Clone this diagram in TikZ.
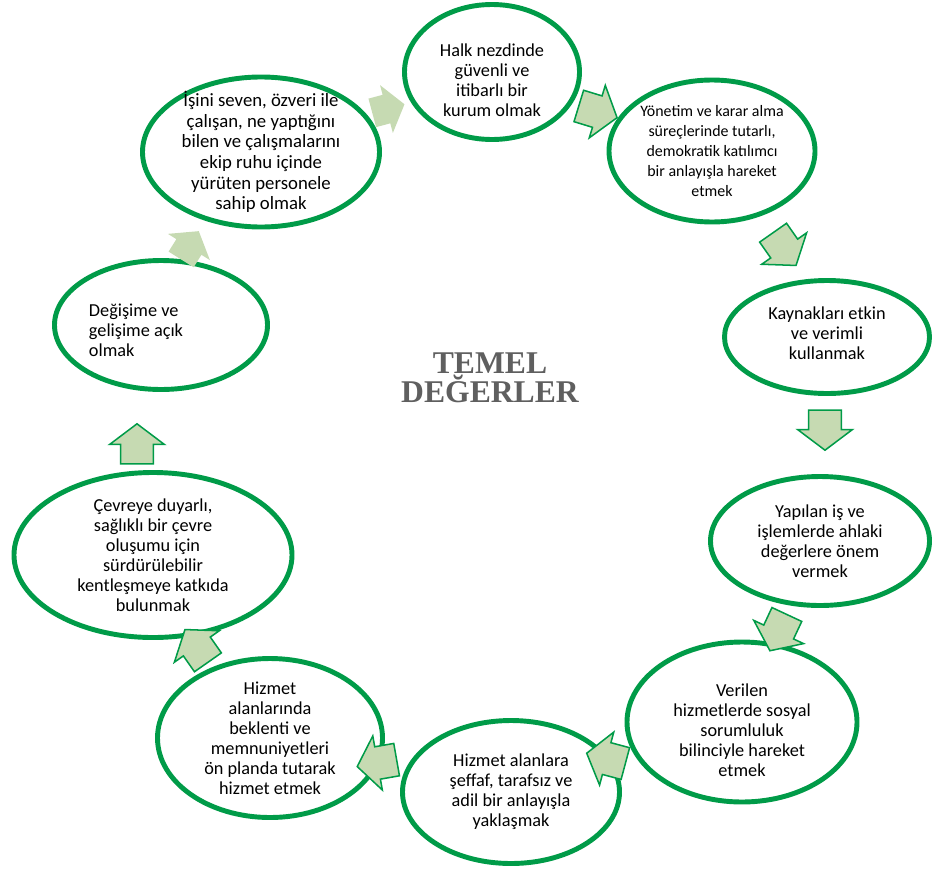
\documentclass[tikz,border=0pt]{standalone}
\usepackage{fontspec}
\setmainfont{Carlito}
\newfontfamily\baslikfont{Liberation Serif}
\usetikzlibrary{shapes.geometric,shapes.arrows}
\definecolor{halkayesil}{RGB}{0,155,72}
\definecolor{okdolgu}{RGB}{198,218,178}
\definecolor{baslikgri}{RGB}{95,95,95}

\begin{document}
\begin{tikzpicture}[x=0.03cm,y=-0.03cm]
  \tikzstyle{halka}=[ellipse,draw=halkayesil,line width=4.2pt,fill=white,inner sep=0pt]
  \tikzstyle{yazi}=[align=center,font=\fontsize{15.6}{17.1}\selectfont,text=black,inner sep=0pt]
  \tikzstyle{ok}=[single arrow,draw=halkayesil,line width=1.3pt,fill=okdolgu,inner xsep=0pt,inner ysep=0.47cm,
    minimum height=1.2cm,single arrow head extend=0.33cm,single arrow tip angle=106]
  \tikzstyle{soluk}=[ok,draw=none,inner ysep=0.42cm,minimum height=1.0cm,single arrow head extend=0.3cm]

  \useasboundingbox (0,0) rectangle (934,869);

    \node [halka] (halk) at (492,72) [minimum width=5.25cm,minimum height=4.05cm,
        label={[yazi,yshift=-0.24cm]center:{Halk nezdinde\\güvenli ve\\itibarlı bir\\kurum olmak}}] {}; %1
    \node [halka] (yonetim) at (712,151) [minimum width=6.18cm,minimum height=4.26cm,
        label={[yazi,font=\fontsize{13.6}{17.1}\selectfont]center:{Yönetim ve karar alma\\süreçlerinde tutarlı,\\demokratik katılımcı\\bir anlayışla hareket\\etmek}}] {};
    \node [halka] (kaynak) at (827,337) [minimum width=6.15cm,minimum height=3.39cm,
        label={[yazi,yshift=0.12cm]center:{Kaynakları etkin\\ve verimli\\kullanmak}}] {};
    \node [halka] (ahlak) at (820,541) [minimum width=6.57cm,minimum height=3.87cm,
        label={[yazi]center:{Yapılan iş ve\\işlemlerde ahlaki\\değerlere önem\\vermek}}] {};
    \node [halka] (sosyal) at (742,722) [minimum width=6.9cm,minimum height=4.8cm,
        label={[yazi,yshift=-0.24cm]center:{Verilen\\hizmetlerde sosyal\\sorumluluk\\bilinciyle hareket\\etmek}}] {};
    \node [halka] (seffaf) at (511,792) [minimum width=6.51cm,minimum height=4.29cm,
        label={[yazi]center:{Hizmet alanlara\\şeffaf, tarafsız ve\\adil bir anlayışla\\yaklaşmak}}] {};
    \node [halka] (beklenti) at (270,738) [minimum width=6.75cm,minimum height=4.77cm,
        label={[yazi]center:{Hizmet\\alanlarında\\beklenti ve\\memnuniyetleri\\ön planda tutarak\\hizmet etmek}}] {};
    \node [halka] (cevre) at (153,555) [minimum width=8.34cm,minimum height=4.95cm,
        label={[yazi]center:{Çevreye duyarlı,\\sağlıklı bir çevre\\oluşumu için\\sürdürülebilir\\kentleşmeye katkıda\\bulunmak}}] {};
    \node [halka] (degisim) at (161,325) [minimum width=6.39cm,minimum height=3.87cm,
        label={[yazi,xshift=-0.75cm,yshift=-0.15cm,align=left]center:{Değişime ve\\gelişime açık\\olmak}}] {};
    \node [halka] (personel) at (261,152) [minimum width=7.11cm,minimum height=4.5cm,
        label={[yazi,font=\fontsize{16}{17.6}\selectfont]center:{İşini seven, özveri ile\\çalışan, ne yaptığını\\bilen ve çalışmalarını\\ekip ruhu içinde\\yürüten personele\\sahip olmak}}] {}; %10

    \node [soluk] (ok1) at (383,110) [rotate=15] {};
    \node [ok] (ok2) at (592,110) [rotate=-17] {};
    \node [ok] (ok3) at (781,244) [rotate=-55] {};
    \node [ok] (ok4) at (825,424) [rotate=-90] {};
    \node [ok] (ok5) at (781,627) [rotate=-115] {};
    \node [ok] (ok6) at (612,760) [rotate=165] {};
    \node [ok] (ok7) at (383,762) [rotate=190] {};
    \node [ok] (ok8) at (200,651) [rotate=125] {};
    \node [ok] (ok9) at (137,450) [rotate=90] {};
    \node [soluk] (ok10) at (187,250) [rotate=58] {};

    \node [font=\baslikfont\bfseries\fontsize{27}{24.7}\selectfont,text=baslikgri,align=center]
        (baslik) at (490,378) {TEMEL\\DEĞERLER};
\end{tikzpicture}
\end{document}
